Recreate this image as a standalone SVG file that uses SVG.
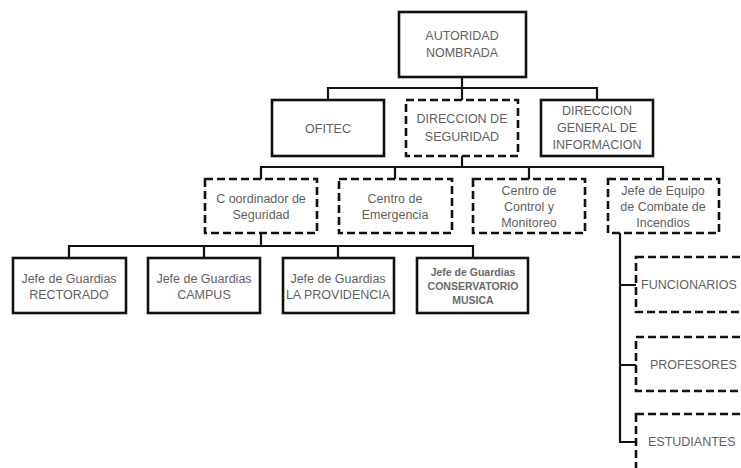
<svg xmlns="http://www.w3.org/2000/svg" width="741" height="468" viewBox="0 0 741 468">
<style>
.solid{fill:#fff;stroke:#111;stroke-width:2.6}
.dash{fill:#fff;stroke:#111;stroke-width:2.6;stroke-dasharray:8 4}
.conn{fill:none;stroke:#111;stroke-width:2.2}
text{font-family:"Liberation Sans",Arial,sans-serif;font-size:12.5px;fill:#5f5f5f;text-anchor:middle}
.sm{font-size:10.5px;font-weight:bold;fill:#6a6a6a}
.st{text-anchor:start}
</style>
<rect width="741" height="468" fill="#fff"/>
<g id="connectors">
<path class="conn" d="M462 77V88M328 100V88H597V100M462 88V100"/>
<path class="conn" d="M462 156V167M261 179V167H663V179M395 167V179M529 167V179"/>
<path class="conn" d="M261 233V246M69 258V246H473V258M204 246V258M338 246V258"/>
<path class="conn" d="M620 233V442H636M620 285H636M620 365H636"/>
</g>
<g id="autoridad"><rect class="solid" x="399" y="12" width="127" height="65"/><text x="462" y="40">AUTORIDAD</text><text x="462" y="57">NOMBRADA</text></g>
<g id="ofitec"><rect class="solid" x="272" y="100" width="112" height="56"/><text x="328" y="133">OFITEC</text></g>
<g id="dir-seguridad"><rect class="dash" x="406" y="100" width="112" height="56"/><text x="462" y="123">DIRECCION DE</text><text x="462" y="141">SEGURIDAD</text></g>
<g id="dir-general"><rect class="solid" x="541" y="100" width="112" height="56"/><text x="597" y="115">DIRECCION</text><text x="597" y="132">GENERAL DE</text><text x="597" y="149">INFORMACION</text></g>
<g id="coordinador"><rect class="dash" x="205" y="179" width="112" height="54"/><text x="261" y="203">C oordinador de</text><text x="261" y="219">Seguridad</text></g>
<g id="emergencia"><rect class="dash" x="339" y="179" width="113" height="54"/><text x="395" y="203">Centro de</text><text x="395" y="219">Emergencia</text></g>
<g id="control"><rect class="dash" x="473" y="179" width="112" height="54"/><text x="529" y="195">Centro de</text><text x="529" y="211">Control y</text><text x="529" y="227">Monitoreo</text></g>
<g id="combate"><rect class="dash" x="608" y="179" width="111" height="54"/><text x="663" y="195">Jefe de Equipo</text><text x="663" y="211">de Combate de</text><text x="663" y="227">Incendios</text></g>
<g id="rectorado"><rect class="solid" x="13" y="258" width="113" height="55"/><text x="69" y="283">Jefe de Guardias</text><text x="69" y="299">RECTORADO</text></g>
<g id="campus"><rect class="solid" x="148" y="258" width="112" height="55"/><text x="204" y="283">Jefe de Guardias</text><text x="204" y="299">CAMPUS</text></g>
<g id="providencia"><rect class="solid" x="283" y="258" width="111" height="55"/><text x="338" y="283">Jefe de Guardias</text><text x="338" y="299">LA PROVIDENCIA</text></g>
<g id="conservatorio"><rect class="solid" x="417" y="258" width="111" height="55"/><text class="sm" x="473" y="276">Jefe de Guardias</text><text class="sm" x="473" y="290">CONSERVATORIO</text><text class="sm" x="473" y="304">MUSICA</text></g>
<g id="funcionarios"><rect class="dash" x="636" y="257" width="120" height="55"/><text class="st" x="641" y="289">FUNCIONARIOS</text></g>
<g id="profesores"><rect class="dash" x="636" y="337" width="120" height="54"/><text class="st" x="650" y="369">PROFESORES</text></g>
<g id="estudiantes"><rect class="dash" x="636" y="414" width="120" height="70"/><text class="st" x="648" y="446">ESTUDIANTES</text></g>
</svg>
